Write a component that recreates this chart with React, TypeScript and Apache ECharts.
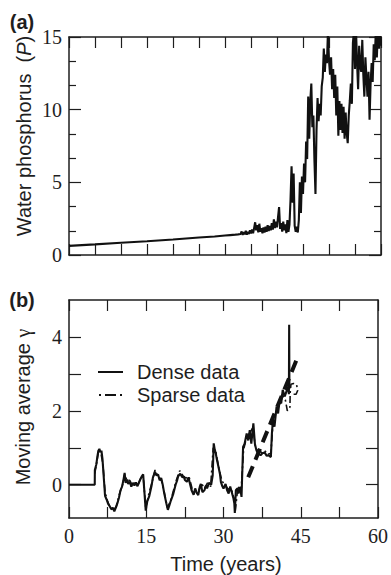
import React, { useEffect, useRef } from "react";
import * as echarts from "echarts";

// ---------- Panel (a): water phosphorus ----------
const phosSmoothTime = [0, 5, 10, 15, 20, 25, 28, 29, 30, 31, 32, 32.5];
const phosSmoothValue = [0.63, 0.73, 0.84, 0.95, 1.07, 1.2, 1.27, 1.31, 1.34, 1.37, 1.4, 1.42];
// noisy part, sampled every 0.2 years from 33.0 to 60.0
const phosNoisyStart = 33.0;
const phosNoisyStep = 0.2;
const phosNoisyValue = [
  1.45, 1.62, 1.38, 1.58, 1.42, 1.66, 1.40, 1.60, 1.45, 1.70,
  1.48, 1.75, 1.50, 1.85, 2.25, 1.70, 2.05, 1.55, 2.15, 1.60,
  1.85, 1.50, 1.90, 1.55, 1.95, 1.60, 2.05, 1.65, 2.00, 1.70,
  2.20, 1.75, 2.45, 1.85, 2.30, 1.90, 2.60, 3.30, 1.80, 2.20,
  1.60, 2.30, 1.70, 2.10, 1.50, 2.40, 1.60, 2.10, 3.80, 6.10,
  3.60, 5.60, 2.00, 1.60, 1.95, 1.55, 2.40, 5.00, 2.90, 5.40,
  4.20, 6.30, 5.00, 7.80, 6.60, 10.9, 8.00, 10.6, 11.8, 8.80,
  9.60, 6.50, 4.20, 8.60, 10.8, 9.20, 10.4, 9.60, 11.6, 12.2,
  14.2, 12.6, 13.8, 13.2, 15.4, 13.4, 12.4, 13.6, 11.4, 12.8,
  10.8, 12.4, 9.60, 11.6, 8.20, 10.6, 8.60, 10.4, 8.40, 10.2,
  8.00, 9.80, 8.40, 7.70, 9.60, 10.6, 11.8, 10.4, 14.6, 15.4,
  12.8, 15.4, 13.2, 11.4, 14.4, 13.0, 12.6, 14.8, 12.4, 10.9,
  13.6, 12.2, 10.9, 12.6, 9.30, 11.8, 13.2, 11.9, 14.5, 13.4,
  15.4, 13.6, 15.4, 14.2, 15.4, 14.4
];

// ---------- Panel (b): moving average gamma ----------
const denseTime = [
  0, 5.0, 5.02, 5.3, 5.5, 5.7, 5.9, 6.1, 6.3, 6.5, 6.8, 7.0, 7.3, 7.6, 7.9, 8.2, 8.5, 8.8, 9.1, 9.4,
  9.7, 10.0, 10.3, 10.6, 10.8, 11.0, 11.3, 11.5, 11.8, 12.1, 12.4, 12.7, 13.0, 13.3, 13.7, 14.1, 14.4, 14.9, 15.2, 15.6,
  16.0, 16.3, 16.7, 17.0, 17.3, 17.6, 17.9, 18.2, 18.5, 18.9, 19.2, 19.5, 19.8, 20.2, 20.7, 21.0, 21.2, 21.6, 22.0, 22.3,
  22.5, 22.9, 23.2, 23.5, 23.8, 24.2, 24.5, 24.8, 25.1, 25.4, 25.6, 25.9, 26.3, 26.6, 26.8, 27.2, 27.6, 27.9, 28.1, 28.3,
  28.5, 28.7, 29.0, 29.3, 29.5, 29.8, 30.0, 30.4, 30.7, 31.0, 31.3, 31.6, 31.9, 32.1, 32.2, 32.4, 32.7, 32.9, 33.2, 33.5,
  33.8, 34.1, 34.5, 34.8, 35.1, 35.4, 35.8, 36.1, 36.4, 36.7, 37.2, 37.6, 38.0, 38.4, 38.7, 39.2, 39.4, 39.6, 39.9, 40.3,
  40.6, 40.9, 41.2, 41.5, 41.9, 42.2, 42.5, 42.7, 42.75, 42.8
];
const denseValue = [
  0, 0, 0.40, 0.55, 0.75, 0.92, 0.97, 0.88, 0.92, 0.70, 0.10, -0.30, -0.40, -0.52, -0.58, -0.66, -0.62, -0.72, -0.62, -0.50,
  -0.35, -0.15, -0.05, 0.15, 0.32, 0.05, 0.14, 0.02, 0.08, -0.05, 0.05, -0.02, 0.06, -0.04, 0.10, 0.22, 0.28, -0.70, -0.45, -0.30,
  -0.05, 0.20, 0.35, 0.25, 0.28, 0.12, 0.18, 0.00, -0.24, -0.50, -0.68, -0.55, -0.42, -0.27, 0.00, 0.12, 0.23, 0.30, 0.20, 0.22,
  0.13, 0.08, 0.20, 0.02, -0.15, -0.27, -0.10, -0.22, -0.28, -0.05, 0.02, -0.20, -0.15, -0.02, -0.10, 0.05, 0.00, 0.25, 1.12, 0.95,
  0.85, 0.69, 0.50, 0.30, 0.07, -0.05, -0.10, 0.02, -0.15, -0.24, -0.05, -0.20, -0.35, -0.50, -0.76, -0.15, -0.10, -0.24, -0.06, -0.33,
  1.02, 1.11, 1.39, 1.20, 1.48, 1.11, 1.66, 1.10, 0.93, 0.84, 0.80, 0.86, 0.87, 0.78, 0.80, 0.75, 1.39, 1.75, 1.57, 2.11,
  1.93, 2.29, 2.20, 2.57, 2.39, 2.52, 2.66, 2.45, 4.33, 2.60
];

const sparseTime = [
  5.0, 5.4, 5.8, 6.2, 6.6, 7.0, 7.5, 8.0, 8.6, 9.2, 9.8, 10.4, 10.8, 11.3, 11.8, 12.3, 12.8, 13.4, 14.0, 14.4,
  14.9, 15.5, 16.1, 16.7, 17.3, 17.9, 18.5, 19.1, 19.7, 20.3, 20.9, 21.5, 22.1, 22.7, 23.3, 23.9, 24.5, 25.1, 25.7, 26.3,
  26.9, 27.5, 28.0, 28.5, 29.1, 29.7, 30.3, 30.9, 31.5, 32.1, 32.3, 32.8, 33.4, 33.9, 34.5, 35.1, 35.7, 36.2, 36.8, 37.4,
  38.0, 38.6, 39.2, 39.6, 40.2, 40.8, 41.4, 42.0, 42.4, 42.9, 42.95, 43.1, 43.6, 44.2, 44.4, 44.1, 43.3
];
const sparseValue = [
  0.30, 0.62, 0.95, 0.85, 0.55, -0.20, -0.45, -0.62, -0.70, -0.58, -0.25, 0.00, 0.28, 0.10, 0.12, -0.02, 0.05, 0.00, 0.20, 0.25,
  -0.62, -0.25, 0.05, 0.40, 0.20, 0.15, -0.20, -0.62, -0.45, -0.15, 0.15, 0.38, 0.25, 0.18, 0.22, -0.10, -0.15, -0.20, 0.05, -0.10,
  0.05, -0.05, 1.00, 0.90, 0.45, 0.10, 0.00, -0.12, -0.10, -0.40, -0.70, -0.05, -0.20, 0.95, 1.30, 1.40, 1.55, 1.00, 0.90, 0.88,
  0.92, 0.82, 0.85, 1.65, 1.95, 2.20, 2.45, 2.30, 2.00, 2.10, 2.50, 2.72, 2.74, 2.70, 2.55, 2.45, 2.45
];

const trendTime = [34.8, 44.4];
const trendValue = [0.2, 3.45];

const TIME_MIN = 0;
const TIME_MAX = 60;
const PHOS_MIN = 0;
const PHOS_MAX = 15;
const GAMMA_MIN = -0.9;
const GAMMA_MAX = 5;
const gammaTicks = [0, 1, 2, 3, 4];
const gammaLabels = [0, 2, 4];

const INK = "#1e1e1e";
const SERIF = "Liberation Serif";
const SANS = "Liberation Sans";

function pairs(xs: number[], ys: number[]) {
  return xs.map((x, i) => [x, ys[i]]);
}

export default function App() {
  const ref = useRef<HTMLDivElement>(null);

  useEffect(() => {
    if (!ref.current) return;
    const chart = echarts.init(ref.current, null, { renderer: "svg" });

    const phosData = pairs(phosSmoothTime, phosSmoothValue).concat(
      phosNoisyValue.map((v, i) => [Number((phosNoisyStart + i * phosNoisyStep).toFixed(2)), v])
    );

    const axisLine = { show: true, onZero: false, lineStyle: { color: INK, width: 1.5 } };
    const tickStyle = { color: INK, width: 1.2 };

    const xAxisBase = (gridIndex: number, position: string, interval: number, labels: boolean, minorSplit: number) => ({
      type: "value",
      gridIndex,
      position,
      min: TIME_MIN,
      max: TIME_MAX,
      interval,
      axisLine,
      splitLine: { show: false },
      axisTick: { show: true, inside: true, length: 11, lineStyle: tickStyle },
      minorTick: minorSplit > 0 ? { show: true, splitNumber: minorSplit, length: 11, lineStyle: tickStyle } : { show: false },
      axisLabel: labels
        ? { show: true, margin: 8, fontFamily: SERIF, fontSize: 20, color: INK }
        : { show: false },
    });

    const gammaAxis = (position: string, labels: boolean) => ({
      type: "value", gridIndex: 1, position, min: GAMMA_MIN, max: GAMMA_MAX,
      axisLine, splitLine: { show: false },
      axisTick: { show: true, inside: true, length: 12, lineStyle: tickStyle, customValues: gammaTicks },
      axisLabel: labels
        ? { show: true, margin: 7, fontFamily: SERIF, fontSize: 20, color: INK, customValues: gammaLabels }
        : { show: false },
    });

    const option: any = {
      animation: false,
      backgroundColor: "#ffffff",
      grid: [
        { left: 69, top: 37, width: 312, height: 218, containLabel: false },
        { left: 69, top: 300, width: 312, height: 218, containLabel: false },
      ],
      xAxis: [
        xAxisBase(0, "bottom", 5, false, 0),
        xAxisBase(0, "top", 5, false, 0),
        xAxisBase(1, "bottom", 15, true, 2),
        xAxisBase(1, "top", 15, false, 2),
      ],
      yAxis: [
        {
          type: "value", gridIndex: 0, position: "left", min: PHOS_MIN, max: PHOS_MAX, interval: 5,
          axisLine, splitLine: { show: false },
          axisTick: { show: true, inside: true, length: 12, lineStyle: tickStyle },
          minorTick: { show: true, splitNumber: 3, length: 7, lineStyle: tickStyle },
          axisLabel: { show: true, margin: 7, fontFamily: SERIF, fontSize: 20, color: INK },
        },
        {
          type: "value", gridIndex: 0, position: "right", min: PHOS_MIN, max: PHOS_MAX, interval: 5,
          axisLine, splitLine: { show: false },
          axisTick: { show: true, inside: true, length: 12, lineStyle: tickStyle },
          minorTick: { show: true, splitNumber: 3, length: 7, lineStyle: tickStyle },
          axisLabel: { show: false },
        },
        gammaAxis("left", true),
        gammaAxis("right", false),
      ],
      legend: {
        data: [
          { name: "Dense data", icon: "path://M0,0H25V2H0Z" },
          { name: "Sparse data", icon: "path://M0,0H2V2H0Z M6,0H17V2H6Z M21,0H23V2H21Z" },
        ],
        orient: "vertical",
        left: 93,
        top: 357,
        itemWidth: 25,
        itemHeight: 2,
        itemGap: 3,
        textStyle: { fontFamily: SANS, fontSize: 20, color: INK, lineHeight: 20, padding: [0, 0, 0, 9] },
      },
      series: [
        {
          name: "Water phosphorus",
          type: "line",
          xAxisIndex: 0,
          yAxisIndex: 0,
          data: phosData,
          showSymbol: false,
          symbol: "none",
          clip: true,
          lineStyle: { color: "#111", width: 2.1 },
        },
        {
          name: "Dense data",
          type: "line",
          xAxisIndex: 2,
          yAxisIndex: 2,
          data: pairs(denseTime, denseValue),
          showSymbol: false,
          symbol: "none",
          itemStyle: { color: "#111" },
          lineStyle: { color: "#111", width: 2.1 },
        },
        {
          name: "Sparse data",
          type: "line",
          xAxisIndex: 2,
          yAxisIndex: 2,
          data: pairs(sparseTime, sparseValue),
          showSymbol: false,
          symbol: "none",
          itemStyle: { color: "#111" },
          lineStyle: { color: "#111", width: 1.6, type: [7, 3, 2, 3] },
        },
        {
          name: "Trend",
          type: "line",
          xAxisIndex: 2,
          yAxisIndex: 2,
          data: pairs(trendTime, trendValue),
          showSymbol: false,
          symbol: "none",
          lineStyle: { color: "#111", width: 4, type: [12, 7] },
        },
      ],
      graphic: [
        {
          type: "text", x: 22, y: 22,
          style: { text: "(a)", fontFamily: SANS, fontWeight: "bold", fontSize: 20, fill: INK, textAlign: "center", textVerticalAlign: "middle" },
        },
        {
          type: "text", x: 22, y: 300,
          style: { text: "(b)", fontFamily: SANS, fontWeight: "bold", fontSize: 20, fill: INK, textAlign: "center", textVerticalAlign: "middle" },
        },
        {
          type: "text", x: 24, y: 136, rotation: Math.PI / 2,
          style: {
            text: "{a|Water phosphorus  (}{b|P}{a|)}",
            textAlign: "center", textVerticalAlign: "middle",
            rich: {
              a: { fontFamily: SANS, fontSize: 20, fill: INK, color: INK },
              b: { fontFamily: SANS, fontSize: 20, fontStyle: "italic", fill: INK, color: INK },
            },
          },
        },
        {
          type: "text", x: 23, y: 407, rotation: Math.PI / 2,
          style: {
            text: "{a|Moving average }{b|γ}",
            textAlign: "center", textVerticalAlign: "middle",
            rich: {
              a: { fontFamily: SANS, fontSize: 20, fill: INK, color: INK },
              b: { fontFamily: SERIF, fontSize: 20, fill: INK, color: INK },
            },
          },
        },
        {
          type: "text", x: 226, y: 564,
          style: { text: "Time (years)", fontFamily: SANS, fontSize: 20, fill: INK, textAlign: "center", textVerticalAlign: "middle" },
        },
      ],
    };

    chart.setOption(option);
    return () => chart.dispose();
  }, []);

  return (
    <div
      ref={ref}
      style={{ position: "fixed", left: 0, top: 0, width: 391, height: 575, background: "#fff" }}
    />
  );
}
